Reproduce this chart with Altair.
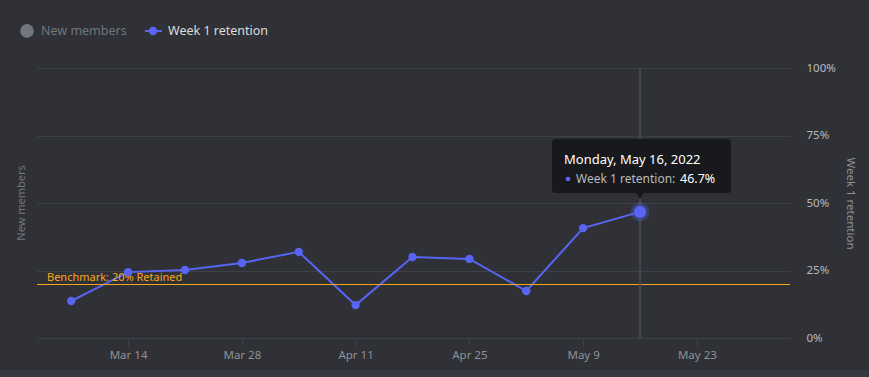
import altair as alt
import pandas as pd

# ---- data ----
dates = ["2022-03-07", "2022-03-14", "2022-03-21", "2022-03-28", "2022-04-04",
         "2022-04-11", "2022-04-18", "2022-04-25", "2022-05-02", "2022-05-09",
         "2022-05-16"]
retention = [0.137, 0.244, 0.252, 0.278, 0.319, 0.122, 0.300, 0.293, 0.174, 0.407, 0.467]
tick_dates = ["2022-03-14", "2022-03-28", "2022-04-11", "2022-04-25", "2022-05-09", "2022-05-23"]
y_ticks = [0, 0.25, 0.5, 0.75, 1.0]
benchmark = [0.20]
benchmark_label = ["Benchmark: 20% Retained"]
legend_labels = ["New members", "Week 1 retention"]
highlight_index = 10

BG = "#2f3136"
BLUE = "#5865f2"
ORANGE = "#faa61a"
GRID = "#3e4147"
FONT = "Noto Sans"

def ms(d):
    return int(pd.Timestamp(d, tz="UTC").value // 10**6)

df = pd.DataFrame({"date": dates, "retention": retention})
hl = df.iloc[[highlight_index]].copy()
hl_date = pd.Timestamp(dates[highlight_index])
tip_title = f"{hl_date.strftime('%A, %B')} {hl_date.day}, {hl_date.year}"
tip_value = f"{retention[highlight_index] * 100:.1f}%"

x_scale = alt.Scale(type="utc", domain=[ms("2022-03-02T19:00:00"), ms("2022-06-03T11:00:00")])
y_scale = alt.Scale(domain=[0, 1], nice=False)

x_enc = alt.X("date:T", scale=x_scale, title=None,
              axis=alt.Axis(values=[ms(d) for d in tick_dates],
                            labelExpr="monthAbbrevFormat(utcmonth(datum.value)) + ' ' + utcdate(datum.value)",
                            grid=False, domain=False, ticks=True, tickSize=8, tickColor=GRID,
                            labelColor="#8e9297", labelFont=FONT, labelFontSize=11.5,
                            labelPadding=3))
y_enc = alt.Y("retention:Q", scale=y_scale, title="Week 1 retention",
              axis=alt.Axis(orient="right", values=y_ticks, format=".0%", grid=True,
                            gridColor=GRID, domain=False, ticks=False, labelPadding=16,
                            labelColor="#b9bbbe", labelFont=FONT, labelFontSize=11.5,
                            titleColor="#8e9297", titleFont=FONT, titleFontSize=11.5,
                            titleFontWeight="normal", titlePadding=9))

base = alt.Chart(df)
line = base.mark_line(color=BLUE, strokeWidth=2).encode(x=x_enc, y=y_enc)
pts = base.mark_circle(color=BLUE, size=70, opacity=1).encode(x="date:T", y="retention:Q")

bdf = pd.DataFrame({"retention": benchmark, "label": benchmark_label})
bench_rule = alt.Chart(bdf).mark_rule(color=ORANGE, strokeWidth=1, yOffset=0.5).encode(y="retention:Q")
bench_text = alt.Chart(bdf).mark_text(color=ORANGE, align="left", baseline="bottom", dy=-1,
                                      font=FONT, fontSize=11).encode(
    x=alt.value(10), y="retention:Q", text="label:N")

hover_rule = alt.Chart(hl).mark_rule(color="#4a4d54", strokeWidth=1.5).encode(
    x="date:T", y=alt.value(0), y2=alt.value(270))
halo = alt.Chart(hl).mark_circle(color=BLUE, size=360, opacity=0.3).encode(x="date:T", y="retention:Q")
hpt = alt.Chart(hl).mark_circle(color=BLUE, size=150, opacity=1).encode(x="date:T", y="retention:Q")

one = pd.DataFrame({"k": [0]})
tip_box = alt.Chart(one).mark_rect(color="#18191c", cornerRadius=3).encode(
    x=alt.value(515), x2=alt.value(694), y=alt.value(71), y2=alt.value(125))
tip_arrow = alt.Chart(one).mark_point(shape="triangle-down", filled=True, color="#18191c",
                                      size=60, opacity=1).encode(x=alt.value(603), y=alt.value(128))
tip_t1 = alt.Chart(one).mark_text(text=tip_title, color="#ffffff", align="left", baseline="middle",
                                  font=FONT, fontSize=13).encode(x=alt.value(527), y=alt.value(92))
tip_dot = alt.Chart(one).mark_circle(color=BLUE, size=22, opacity=1).encode(x=alt.value(531), y=alt.value(111))
tip_t2 = alt.Chart(one).mark_text(text=legend_labels[1] + ":", color="#b9bbbe", align="left",
                                  baseline="middle", font=FONT, fontSize=12).encode(
    x=alt.value(539), y=alt.value(111))
tip_t3 = alt.Chart(one).mark_text(text=tip_value, color="#ffffff", align="left", baseline="middle",
                                  font=FONT, fontSize=12.5).encode(x=alt.value(643), y=alt.value(111))

left_title = alt.Chart(one).mark_text(text=legend_labels[0], color="#72767d", angle=270,
                                      align="center", baseline="middle", font=FONT,
                                      fontSize=11).encode(x=alt.value(-15), y=alt.value(135))

leg_c1 = alt.Chart(one).mark_circle(color="#72767d", size=190, opacity=1).encode(
    x=alt.value(-10), y=alt.value(-37))
leg_t1 = alt.Chart(one).mark_text(text=legend_labels[0], color="#72767d", align="left",
                                  baseline="middle", font=FONT, fontSize=12.5).encode(
    x=alt.value(4), y=alt.value(-37))
leg_l2 = alt.Chart(one).mark_rule(color=BLUE, strokeWidth=2).encode(
    x=alt.value(108), x2=alt.value(125), y=alt.value(-37))
leg_c2 = alt.Chart(one).mark_circle(color=BLUE, size=70, opacity=1).encode(
    x=alt.value(116), y=alt.value(-37))
leg_t2 = alt.Chart(one).mark_text(text=legend_labels[1], color="#dcddde", align="left",
                                  baseline="middle", font=FONT, fontSize=12.5).encode(
    x=alt.value(131), y=alt.value(-37))

bottom_strip = alt.Chart(one).mark_rect(color="#36393f").encode(
    x=alt.value(-37), x2=alt.value(832), y=alt.value(302), y2=alt.value(309))

chart = alt.layer(
    line, bench_rule, bench_text, hover_rule, pts, halo, hpt,
    tip_box, tip_arrow, tip_t1, tip_dot, tip_t2, tip_t3,
    left_title, leg_c1, leg_t1, leg_l2, leg_c2, leg_t2, bottom_strip
).properties(
    width=753, height=270, background=BG,
    autosize=alt.AutoSizeParams(type="none"),
    padding={"left": 37, "top": 68, "right": 79, "bottom": 39},
).configure_view(stroke=None)

chart.save("out.html", embed_options={"renderer": "svg", "actions": False})
